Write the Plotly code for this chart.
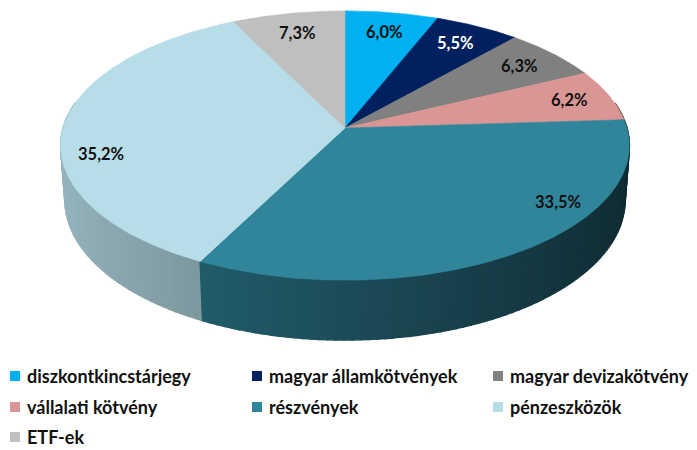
import numpy as np
import plotly.graph_objects as go

# ---------------- data ----------------
CATEGORIES = ["diszkontkincstárjegy", "magyar államkötvények", "magyar devizakötvény",
              "vállalati kötvény", "részvények", "pénzeszközök", "ETF-ek"]
VALUES = [6.0, 5.5, 6.3, 6.2, 33.5, 35.2, 7.3]

# ---------------- styles ----------------
COLORS = [(0, 176, 240), (0, 32, 96), (128, 128, 128), (218, 150, 148),
          (49, 133, 155), (183, 221, 232), (191, 191, 191)]
LABEL_COLORS = ["#111111", "#FFFFFF", "#111111", "#111111", "#111111", "#111111", "#111111"]
LABEL_SHIFT = [0, 0, 0, 0, -20, -13, 0]          # degrees, best-fit nudges
LABEL_R = [0.82, 0.82, 0.83, 0.845, 0.877, 0.865, 0.81]
FONT = "Lato, 'Open Sans', sans-serif"

W, H = 697, 450
CX, CY = 345, 128          # projected pie centre (px)
FOC = 1909.0               # focal scale
DIST = 6.77                # camera distance (in radii)
ALPHA = np.radians(28)     # elevation
DEPTH = 0.222              # thickness (in radii)
SA, CA = np.sin(ALPHA), np.cos(ALPHA)


def proj(X, Y, Z):
    X, Y, Z = np.asarray(X, float), np.asarray(Y, float), np.asarray(Z, float)
    yc = Y * CA - Z * SA
    zc = Y * SA + Z * CA
    w = FOC / (DIST - zc)
    return CX + X * w, CY - yc * w


def rgb(c, f=1.0):
    return "rgb(%d,%d,%d)" % tuple(int(round(max(0, min(255, v * f)))) for v in c)


total = float(sum(VALUES))
bounds = np.concatenate([[0], np.cumsum(VALUES)]) / total * 360.0

fig = go.Figure()

# ---------------- side walls ----------------
segs = []
for i, col in enumerate(COLORS):
    a0, a1 = bounds[i], bounds[i + 1]
    n = max(1, int(np.ceil((a1 - a0) / 1.5)))
    edges = np.linspace(a0, a1, n + 1)
    for t0, t1 in zip(edges[:-1], edges[1:]):
        mid = np.radians((t0 + t1) / 2)
        zmid = -np.cos(mid)
        if zmid < -0.2:
            continue
        th = np.radians(np.linspace(t0, t1, 4))
        X, Z = np.sin(th), -np.cos(th)
        xt, yt = proj(X, np.zeros_like(X), Z)
        xb, yb = proj(X, -DEPTH * np.ones_like(X), Z)
        xs = np.concatenate([xt, xb[::-1], xt[:1]])
        ys = np.concatenate([yt, yb[::-1], yt[:1]])
        f = 0.57 - 0.25 * np.sin(mid)
        segs.append((zmid, xs, ys, rgb(col, f)))

segs.sort(key=lambda s: s[0])
for _, xs, ys, c in segs:
    fig.add_trace(go.Scatter(x=xs, y=ys, mode="lines", fill="toself", fillcolor=c,
                             line=dict(color=c, width=1.5), hoverinfo="skip",
                             showlegend=False))

# ---------------- top faces ----------------
for i, col in enumerate(COLORS):
    a0, a1 = bounds[i], bounds[i + 1]
    th = np.radians(np.linspace(a0, a1, max(3, int((a1 - a0) * 2))))
    X, Z = np.sin(th), -np.cos(th)
    xa, ya = proj(X, np.zeros_like(X), Z)
    x0, y0 = proj(0, 0, 0)
    xs = np.concatenate([[x0], xa, [x0]])
    ys = np.concatenate([[y0], ya, [y0]])
    fig.add_trace(go.Scatter(x=xs, y=ys, mode="lines", fill="toself", fillcolor=rgb(col),
                             line=dict(color=rgb(col), width=0.6), hoverinfo="skip",
                             showlegend=False, name=CATEGORIES[i]))

# ---------------- data labels ----------------
for i, v in enumerate(VALUES):
    mid = np.radians((bounds[i] + bounds[i + 1]) / 2 + LABEL_SHIFT[i])
    r = LABEL_R[i]
    lx, ly = proj(r * np.sin(mid), 0, -r * np.cos(mid))
    fig.add_annotation(x=float(lx), y=float(ly), text=("%.1f" % v).replace(".", ",") + "%",
                       showarrow=False,
                       font=dict(family=FONT, size=16.5, color=LABEL_COLORS[i], weight="bold"),
                       xanchor="center", yanchor="middle")

# ---------------- legend (3 columns) ----------------
COL_X = [15, 257, 498]
ROW_Y = [376, 407, 437]
for i, name in enumerate(CATEGORIES):
    r, c = divmod(i, 3)
    fig.add_trace(go.Scatter(x=[COL_X[c]], y=[ROW_Y[r]], mode="markers",
                             marker=dict(symbol="square", size=10, color=rgb(COLORS[i]),
                                         line=dict(width=0)),
                             hoverinfo="skip", showlegend=False))
    fig.add_annotation(x=COL_X[c] + 11, y=ROW_Y[r], text=name, showarrow=False,
                       xanchor="left", yanchor="middle", borderpad=0,
                       font=dict(family=FONT, size=18, color="#111111", weight="bold"))

fig.update_layout(
    width=W, height=H, margin=dict(l=0, r=0, t=0, b=0),
    paper_bgcolor="white", plot_bgcolor="white",
    xaxis=dict(range=[0, W], visible=False, fixedrange=True),
    yaxis=dict(range=[H, 0], visible=False, fixedrange=True),
    showlegend=False,
)

fig.write_html("out.html", config={"displayModeBar": False},
               post_script="document.body.style.margin='0';document.body.style.padding='0';"
                           "document.body.style.overflow='hidden';")
